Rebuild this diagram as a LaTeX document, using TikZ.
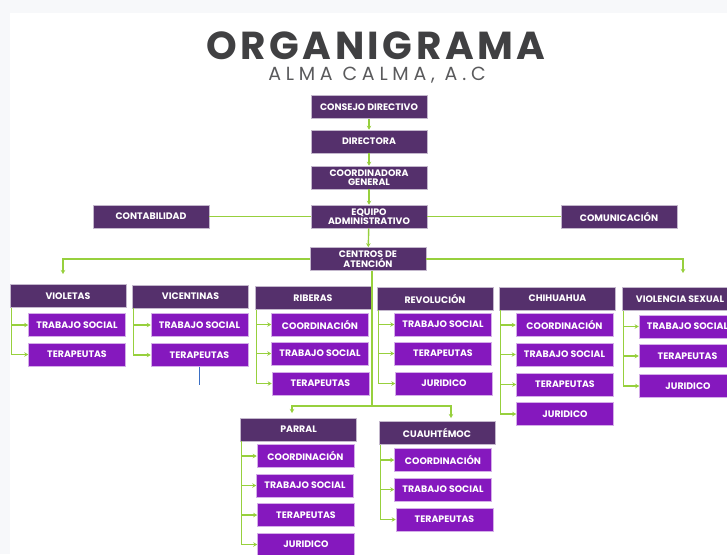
\documentclass[tikz,border=0pt]{standalone}
\usepackage{fontspec}
\setmainfont{Poppins}
\newfontfamily\titlefont[LetterSpace=9]{Poppins}
\newfontfamily\subtitlefont[LetterSpace=25]{Poppins}
\usepackage{xcolor}
\usepackage{tikz}
\usetikzlibrary{arrows.meta}
\definecolor{headpurple}{HTML}{55306C}
\definecolor{unitpurple}{HTML}{8518BE}
\definecolor{linkgreen}{HTML}{97D03D}
\definecolor{titlegray}{HTML}{404042}
\definecolor{subgray}{HTML}{5A5A5C}
\definecolor{edgegray}{HTML}{F7F8FA}
\definecolor{strayblue}{HTML}{3A6FC4}
\tikzstyle{head} = [rectangle, minimum width=116pt, minimum height=23pt, inner sep=0pt, text centered, fill=headpurple, draw=headpurple!35, line width=0.6pt, text=white, font=\bfseries\fontsize{9.4}{9.4}\selectfont, align=center]
\tikzstyle{unit} = [head, minimum width=97pt, fill=unitpurple, draw=unitpurple!35]
\tikzstyle{link} = [line width=1.4pt, draw=linkgreen]
\tikzstyle{arrow} = [link, -{Stealth[length=4pt,width=4.5pt]}]

\begin{document}
\begin{tikzpicture}[x=1pt, y=-1pt]

  % Page
  \useasboundingbox (0,0) rectangle (727,554);
  \fill[edgegray] (0,0) rectangle (727,554);
  \fill[white] (10,13) rectangle (727,554);

  % Title
  \node (title) [anchor=base, inner sep=0pt, font=\titlefont\bfseries\fontsize{39}{39}\selectfont, text=titlegray] at (376,59) {ORGANIGRAMA};
  \node (subtitle) [anchor=base, inner sep=0pt, font=\subtitlefont\fontsize{19}{19}\selectfont, text=subgray] at (377,80) {ALMA CALMA, A.C};

  % Top nodes
  \node (consejo) [head] at (369,107) {CONSEJO DIRECTIVO};
  \node (directora) [head] at (369,141.5) {DIRECTORA};
  \node (coordgen) [head] at (369,177.5) {COORDINADORA\\GENERAL};
  \node (equipo) [head] at (369,216.5) {EQUIPO\\ADMINISTRATIVO};
  \node (contab) [head] at (151,216.5) {CONTABILIDAD};
  \node (comun) [head] at (619,216.5) {COMUNICACIÓN};
  \node (centros) [head] at (368,259) {CENTROS DE\\ATENCIÓN};

  % Centros
  \node (violetas) [head] at (68,296) {VIOLETAS};
  \node (vicentinas) [head] at (190.5,296.5) {VICENTINAS};
  \node (riberas) [head] at (313,298) {RIBERAS};
  \node (revolucion) [head] at (435,298.5) {REVOLUCIÓN};
  \node (chihuahua) [head] at (557.5,298.5) {CHIHUAHUA};
  \node (violencia) [head] at (680,299) {VIOLENCIA SEXUAL};
  \node (parral) [head] at (298.5,429.5) {PARRAL};
  \node (cuauhtemoc) [head] at (437,433) {CUAUHTÉMOC};

  % Areas
  \node (violetas1) [unit] at (77,325) {TRABAJO SOCIAL};
  \node (violetas2) [unit] at (77,354.5) {TERAPEUTAS};
  \node (vicentinas1) [unit] at (199.5,325) {TRABAJO SOCIAL};
  \node (vicentinas2) [unit] at (199.5,355) {TERAPEUTAS};
  \node (riberas1) [unit] at (320,324.5) {COORDINACIÓN};
  \node (riberas2) [unit] at (320,353.5) {TRABAJO SOCIAL};
  \node (riberas3) [unit] at (320.5,383.5) {TERAPEUTAS};
  \node (revolucion1) [unit] at (443,324.5) {TRABAJO SOCIAL};
  \node (revolucion2) [unit] at (443,353.5) {TERAPEUTAS};
  \node (revolucion3) [unit] at (444,383.5) {JURIDICO};
  \node (chihuahua1) [unit] at (564.5,325) {COORDINACIÓN};
  \node (chihuahua2) [unit] at (564.5,354.5) {TRABAJO SOCIAL};
  \node (chihuahua3) [unit] at (565,384.5) {TERAPEUTAS};
  \node (chihuahua4) [unit] at (565,414) {JURIDICO};
  \node (violencia1) [unit] at (687.5,326.5) {TRABAJO SOCIAL};
  \node (violencia2) [unit] at (687.5,356) {TERAPEUTAS};
  \node (violencia3) [unit] at (688,386) {JURIDICO};
  \node (parral1) [unit] at (305.5,456) {COORDINACIÓN};
  \node (parral2) [unit] at (305,485.5) {TRABAJO SOCIAL};
  \node (parral3) [unit] at (306,515) {TERAPEUTAS};
  \node (parral4) [unit] at (306,544.5) {JURIDICO};
  \node (cuauhtemoc1) [unit] at (443,460) {COORDINACIÓN};
  \node (cuauhtemoc2) [unit] at (443,489.5) {TRABAJO SOCIAL};
  \node (cuauhtemoc3) [unit] at (444.5,519.5) {TERAPEUTAS};

  % Free ends
  \coordinate (violetasin) at (63,274);
  \coordinate (violenciain) at (683,273);
  \coordinate (split) at (372,406);
  \coordinate (parralin) at (292,413);
  \coordinate (cuauhtemocin) at (451,418);

  % Arrows
  \draw [arrow] (consejo) -- (directora);
  \draw [arrow] (directora) -- (coordgen);
  \draw [arrow] (coordgen) -- (equipo);
  \draw [arrow] (equipo) -- (centros);
  \draw [link] (contab) -- (equipo);
  \draw [link] (equipo) -- (comun);
  \draw [arrow] (centros.west) -| (violetasin);
  \draw [arrow] (centros.east) -| (violenciain);
  \draw [link] (centros.south -| split) -- (split);
  \draw [arrow] (split) -| (parralin);
  \draw [arrow] (split) -| (cuauhtemocin);

  \draw [arrow] ([xshift=1.5pt]violetas.south west) |- (violetas1.west);
  \draw [arrow] ([xshift=1.5pt]violetas.south west) |- (violetas2.west);
  \draw [arrow] ([xshift=1.5pt]vicentinas.south west) |- (vicentinas1.west);
  \draw [arrow] ([xshift=1.5pt]vicentinas.south west) |- (vicentinas2.west);
  \draw [arrow] ([xshift=1.5pt]riberas.south west) |- (riberas1.west);
  \draw [arrow] ([xshift=1.5pt]riberas.south west) |- (riberas2.west);
  \draw [arrow] ([xshift=1.5pt]riberas.south west) |- (riberas3.west);
  \draw [arrow] ([xshift=1.5pt]revolucion.south west) |- (revolucion1.west);
  \draw [arrow] ([xshift=1.5pt]revolucion.south west) |- (revolucion2.west);
  \draw [arrow] ([xshift=1.5pt]revolucion.south west) |- (revolucion3.west);
  \draw [arrow] ([xshift=1.5pt]chihuahua.south west) |- (chihuahua1.west);
  \draw [arrow] ([xshift=1.5pt]chihuahua.south west) |- (chihuahua2.west);
  \draw [arrow] ([xshift=1.5pt]chihuahua.south west) |- (chihuahua3.west);
  \draw [arrow] ([xshift=1.5pt]chihuahua.south west) |- (chihuahua4.west);
  \draw [arrow] ([xshift=1.5pt]violencia.south west) |- (violencia1.west);
  \draw [arrow] ([xshift=1.5pt]violencia.south west) |- (violencia2.west);
  \draw [arrow] ([xshift=1.5pt]violencia.south west) |- (violencia3.west);
  \draw [arrow] ([xshift=1.5pt]parral.south west) |- (parral1.west);
  \draw [arrow] ([xshift=1.5pt]parral.south west) |- (parral2.west);
  \draw [arrow] ([xshift=1.5pt]parral.south west) |- (parral3.west);
  \draw [arrow] ([xshift=1.5pt]parral.south west) |- (parral4.west);
  \draw [arrow] ([xshift=1.5pt]cuauhtemoc.south west) |- (cuauhtemoc1.west);
  \draw [arrow] ([xshift=1.5pt]cuauhtemoc.south west) |- (cuauhtemoc2.west);
  \draw [arrow] ([xshift=1.5pt]cuauhtemoc.south west) |- (cuauhtemoc3.west);

  % Stray mark
  \draw [strayblue, line width=1pt] (vicentinas2.south) -- ++(0,18);

\end{tikzpicture}
\end{document}
